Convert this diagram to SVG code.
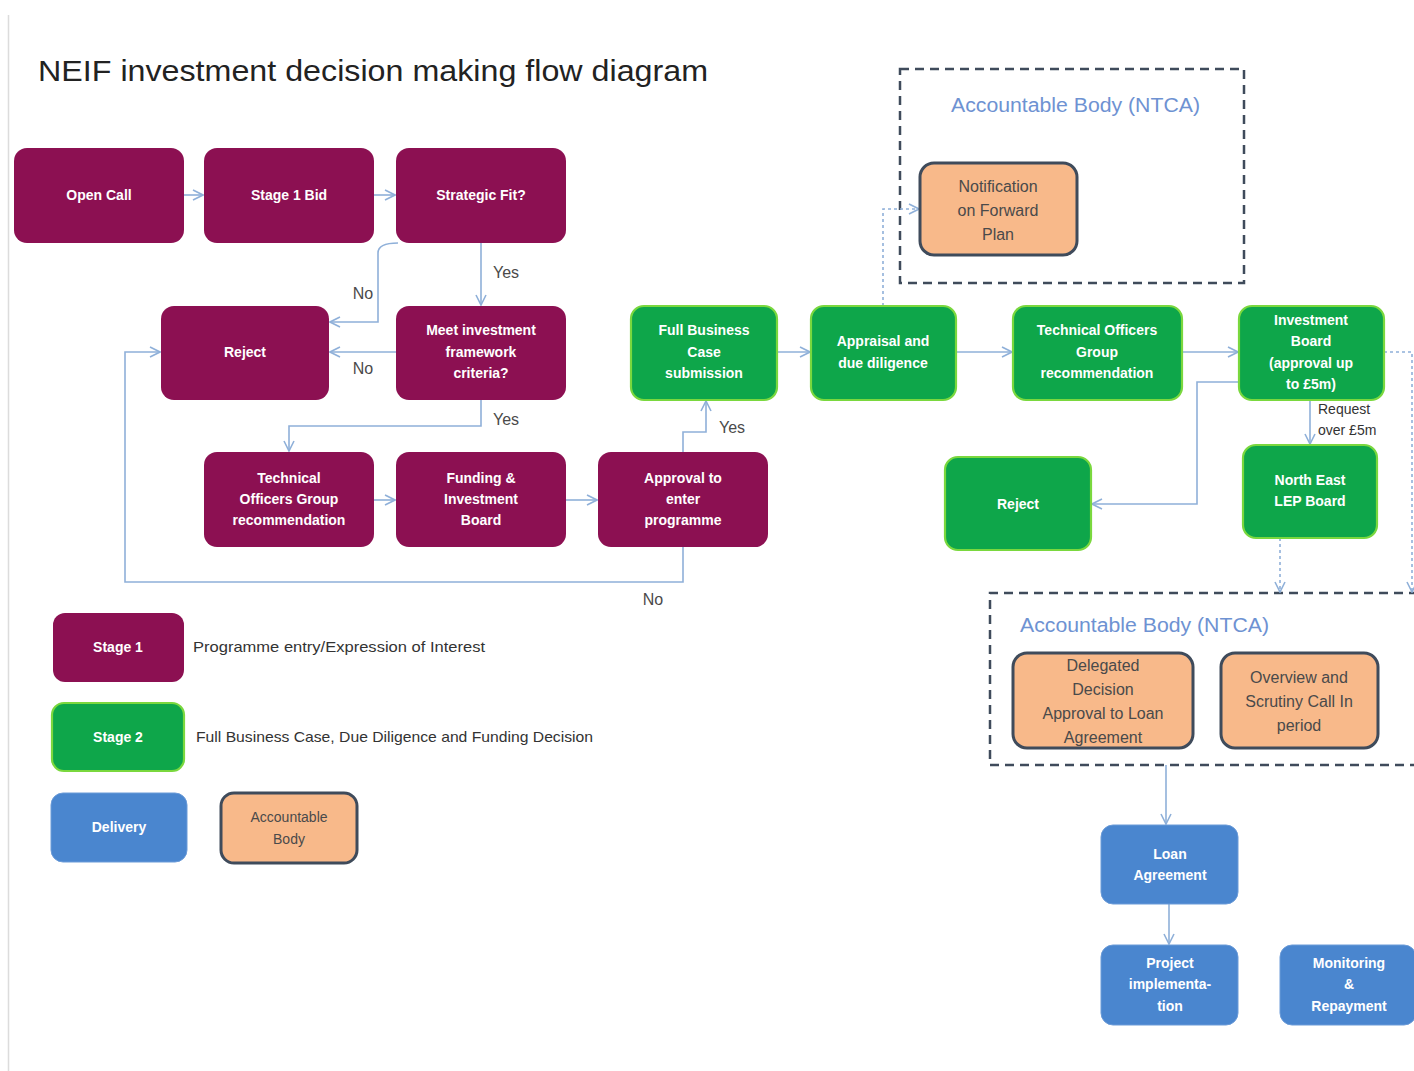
<svg xmlns="http://www.w3.org/2000/svg" width="1414" height="1071" viewBox="0 0 1414 1071">
<defs>
<marker id="arr" viewBox="0 0 12 12" refX="11" refY="6" markerWidth="12" markerHeight="12" markerUnits="userSpaceOnUse" orient="auto">
<path d="M1,1 L11,6 L1,11" fill="none" stroke="#8fb0d9" stroke-width="1.6"/>
</marker>
</defs>
<style>
.p{fill:#8c1052}
.g{fill:#0ea64a;stroke:#7ad83e;stroke-width:2.2}
.b{fill:#4a86cf;stroke:#6b9bd8;stroke-width:1}
.o{fill:#f8b98a;stroke:#3f4b5b;stroke-width:3}
.w{font-family:"Liberation Sans",Arial,sans-serif;font-size:14px;font-weight:bold;fill:#fff;text-anchor:middle}
.d{font-family:"Liberation Sans",Arial,sans-serif;font-size:16px;fill:#4a4a4a;text-anchor:middle}
.l{font-family:"Liberation Sans",Arial,sans-serif;font-size:15px;fill:#333}
.lab{font-family:"Liberation Sans",Arial,sans-serif;font-size:14px;fill:#333}
.hb{font-family:"Liberation Sans",Arial,sans-serif;font-size:20px;fill:#6e92d2}
.c{fill:none;stroke:#8fb0d9;stroke-width:1.6}
.dot{fill:none;stroke:#8fb0d9;stroke-width:1.6;stroke-dasharray:3 3}
.box{fill:none;stroke:#3f4b5b;stroke-width:2.5;stroke-dasharray:9 6}
</style>
<rect width="1414" height="1071" fill="#fff"/>
<line x1="8.5" y1="15" x2="8.5" y2="1071" stroke="#dcdcdc" stroke-width="1.5"/>
<text x="38" y="81" font-family="Liberation Sans,Arial,sans-serif" font-size="30" fill="#222" textLength="670" lengthAdjust="spacingAndGlyphs">NEIF investment decision making flow diagram</text>

<g id="ab-top">
<rect class="box" x="900" y="69" width="344" height="214"/>
<text class="hb" x="951" y="112" textLength="249" lengthAdjust="spacingAndGlyphs">Accountable Body (NTCA)</text>
</g>
<g id="ab-bottom">
<path class="box" d="M1418,593 H990 V765 H1418"/>
<text class="hb" x="1020" y="632" textLength="249" lengthAdjust="spacingAndGlyphs">Accountable Body (NTCA)</text>
</g>

<g id="connectors">
<path class="c" d="M184,195 H203" marker-end="url(#arr)"/>
<path class="c" d="M374,195 H395" marker-end="url(#arr)"/>
<path class="c" d="M481,243 V305" marker-end="url(#arr)"/>
<path class="c" d="M398,243 Q378,243 378,253 V322 H330" marker-end="url(#arr)"/>
<path class="c" d="M396,352 H330" marker-end="url(#arr)"/>
<path class="c" d="M481,400 V426 H289 V451" marker-end="url(#arr)"/>
<path class="c" d="M374,500 H395" marker-end="url(#arr)"/>
<path class="c" d="M566,500 H597" marker-end="url(#arr)"/>
<path class="c" d="M683,452 V432 H706 V401" marker-end="url(#arr)"/>
<path class="c" d="M683,547 V582 H125 V352 H160" marker-end="url(#arr)"/>
<path class="c" d="M777,352 H810" marker-end="url(#arr)"/>
<path class="c" d="M956,352 H1012" marker-end="url(#arr)"/>
<path class="c" d="M1182,352 H1238" marker-end="url(#arr)"/>
<path class="dot" d="M883,306 V209 H919" marker-end="url(#arr)"/>
<path class="c" d="M1239,382 H1197 V504 H1092" marker-end="url(#arr)"/>
<path class="c" d="M1310,400 V444" marker-end="url(#arr)"/>
<path class="dot" d="M1384,352 H1412 V592" marker-end="url(#arr)"/>
<path class="dot" d="M1280,538 V592" marker-end="url(#arr)"/>
<path class="c" d="M1166,765 V824" marker-end="url(#arr)"/>
<path class="c" d="M1169,904 V944" marker-end="url(#arr)"/>
<text class="d" x="506" y="278">Yes</text>
<text class="d" x="363" y="299">No</text>
<text class="d" x="363" y="374">No</text>
<text class="d" x="506" y="425">Yes</text>
<text class="d" x="732" y="433">Yes</text>
<text class="d" x="653" y="605">No</text>
<text class="lab" x="1318" y="414">Request</text>
<text class="lab" x="1318" y="435">over £5m</text>
</g>

<g id="open-call"><rect class="p" x="14" y="148" width="170" height="95" rx="13"/><text class="w" x="99" y="200">Open Call</text></g>
<g id="stage1-bid"><rect class="p" x="204" y="148" width="170" height="95" rx="13"/><text class="w" x="289" y="200">Stage 1 Bid</text></g>
<g id="strategic-fit"><rect class="p" x="396" y="148" width="170" height="95" rx="13"/><text class="w" x="481" y="200">Strategic Fit?</text></g>
<g id="reject1"><rect class="p" x="161" y="306" width="168" height="94" rx="13"/><text class="w" x="245" y="357">Reject</text></g>
<g id="meet-criteria"><rect class="p" x="396" y="306" width="170" height="94" rx="13"/><text class="w" x="481" y="335">Meet investment</text><text class="w" x="481" y="357">framework</text><text class="w" x="481" y="378">criteria?</text></g>
<g id="tog1"><rect class="p" x="204" y="452" width="170" height="95" rx="13"/><text class="w" x="289" y="483">Technical</text><text class="w" x="289" y="504">Officers Group</text><text class="w" x="289" y="525">recommendation</text></g>
<g id="fib"><rect class="p" x="396" y="452" width="170" height="95" rx="13"/><text class="w" x="481" y="483">Funding &amp;</text><text class="w" x="481" y="504">Investment</text><text class="w" x="481" y="525">Board</text></g>
<g id="approval"><rect class="p" x="598" y="452" width="170" height="95" rx="13"/><text class="w" x="683" y="483">Approval to</text><text class="w" x="683" y="504">enter</text><text class="w" x="683" y="525">programme</text></g>

<g id="fbc"><rect class="g" x="631" y="306" width="146" height="94" rx="13"/><text class="w" x="704" y="335">Full Business</text><text class="w" x="704" y="357">Case</text><text class="w" x="704" y="378">submission</text></g>
<g id="appraisal"><rect class="g" x="811" y="306" width="145" height="94" rx="13"/><text class="w" x="883" y="346">Appraisal and</text><text class="w" x="883" y="368">due diligence</text></g>
<g id="tog2"><rect class="g" x="1013" y="306" width="169" height="94" rx="13"/><text class="w" x="1097" y="335">Technical Officers</text><text class="w" x="1097" y="357">Group</text><text class="w" x="1097" y="378">recommendation</text></g>
<g id="inv-board"><rect class="g" x="1239" y="306" width="145" height="94" rx="13"/><text class="w" x="1311" y="325">Investment</text><text class="w" x="1311" y="346">Board</text><text class="w" x="1311" y="368">(approval up</text><text class="w" x="1311" y="389">to £5m)</text></g>
<g id="reject2"><rect class="g" x="945" y="457" width="146" height="93" rx="13"/><text class="w" x="1018" y="509">Reject</text></g>
<g id="nelep"><rect class="g" x="1243" y="445" width="134" height="93" rx="13"/><text class="w" x="1310" y="485">North East</text><text class="w" x="1310" y="506">LEP Board</text></g>

<g id="notification"><rect class="o" x="920" y="163" width="157" height="92" rx="14"/><text class="d" x="998" y="192">Notification</text><text class="d" x="998" y="216">on Forward</text><text class="d" x="998" y="240">Plan</text></g>
<g id="delegated"><rect class="o" x="1013" y="653" width="180" height="95" rx="14"/><text class="d" x="1103" y="671">Delegated</text><text class="d" x="1103" y="695">Decision</text><text class="d" x="1103" y="719">Approval to Loan</text><text class="d" x="1103" y="743">Agreement</text></g>
<g id="overview"><rect class="o" x="1221" y="653" width="157" height="95" rx="14"/><text class="d" x="1299" y="683">Overview and</text><text class="d" x="1299" y="707">Scrutiny Call In</text><text class="d" x="1299" y="731">period</text></g>

<g id="loan"><rect class="b" x="1101" y="825" width="137" height="79" rx="12"/><text class="w" x="1170" y="859">Loan</text><text class="w" x="1170" y="880">Agreement</text></g>
<g id="project"><rect class="b" x="1101" y="945" width="137" height="80" rx="12"/><text class="w" x="1170" y="968">Project</text><text class="w" x="1170" y="989">implementa-</text><text class="w" x="1170" y="1011">tion</text></g>
<g id="monitoring"><rect class="b" x="1280" y="945" width="136" height="80" rx="12"/><text class="w" x="1349" y="968">Monitoring</text><text class="w" x="1349" y="989">&amp;</text><text class="w" x="1349" y="1011">Repayment</text></g>

<g id="legend">
<g id="leg-stage1"><rect class="p" x="53" y="613" width="131" height="69" rx="12"/><text class="w" x="118" y="652">Stage 1</text><text class="l" x="193" y="652" textLength="292" lengthAdjust="spacingAndGlyphs">Programme entry/Expression of Interest</text></g>
<g id="leg-stage2"><rect class="g" x="52" y="703" width="132" height="68" rx="12"/><text class="w" x="118" y="742">Stage 2</text><text class="l" x="196" y="742" textLength="397" lengthAdjust="spacingAndGlyphs">Full Business Case, Due Diligence and Funding Decision</text></g>
<g id="leg-delivery"><rect class="b" x="51" y="793" width="136" height="69" rx="12"/><text class="w" x="119" y="832">Delivery</text></g>
<g id="leg-ab"><rect class="o" x="221" y="793" width="136" height="70" rx="13"/><text class="d" x="289" y="822" style="font-size:14px">Accountable</text><text class="d" x="289" y="844" style="font-size:14px">Body</text></g>
</g>
</svg>
